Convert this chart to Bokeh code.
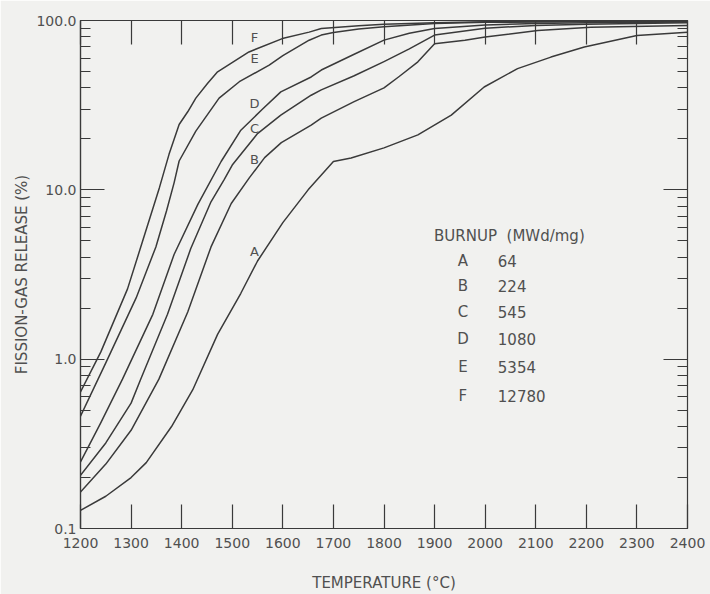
from bokeh.plotting import figure
from bokeh.models import LogAxis, LinearAxis, FixedTicker, NumeralTickFormatter, CustomJSTickFormatter
from bokeh.embed import file_html
from bokeh.resources import INLINE
from bokeh.core.properties import value

# ---------------- data ----------------
temp_A = [1200, 1250, 1300, 1330, 1380, 1422, 1471, 1517, 1550, 1600, 1650, 1700, 1735, 1800, 1867, 1933, 1998, 2064, 2130, 2196, 2300, 2400]
rel_A = [0.128, 0.155, 0.20, 0.245, 0.40, 0.66, 1.40, 2.45, 3.8, 6.4, 10.0, 14.7, 15.4, 17.7, 21.1, 27.6, 40.5, 52, 60.8, 69.7, 81.6, 85.3]

temp_B = [1200, 1250, 1300, 1355, 1412, 1458, 1498, 1534, 1564, 1597, 1656, 1676, 1741, 1800, 1830, 1867, 1900, 1960, 2000, 2104, 2209, 2400]
rel_B = [0.164, 0.24, 0.38, 0.762, 1.9, 4.6, 8.3, 11.8, 15.5, 19.0, 24.1, 26.5, 33.2, 40.0, 46.7, 57, 73, 76.5, 79.8, 87.3, 91.3, 93.5]

temp_C = [1200, 1250, 1300, 1319, 1372, 1418, 1458, 1484, 1500, 1550, 1596, 1656, 1676, 1740, 1800, 1850, 1900, 2000, 2100, 2200, 2400]
rel_C = [0.206, 0.32, 0.55, 0.762, 1.84, 4.5, 8.5, 11.5, 14.0, 21.5, 27.6, 36.2, 38.9, 47, 57.2, 68, 82, 90, 93.5, 95, 97]

temp_D = [1200, 1240, 1283, 1343, 1385, 1432, 1478, 1517, 1560, 1596, 1656, 1676, 1740, 1800, 1850, 1900, 2000, 2100, 2200, 2400]
rel_D = [0.247, 0.42, 0.762, 1.84, 4.15, 8.2, 14.7, 22.5, 30, 37.9, 46.4, 51, 63, 76.6, 84, 89.7, 94, 96, 97, 98]

temp_E = [1200, 1250, 1310, 1349, 1370, 1385, 1395, 1428, 1474, 1514, 1573, 1600, 1652, 1676, 1700, 1750, 1800, 1900, 2000, 2200, 2400]
rel_E = [0.46, 0.95, 2.3, 4.6, 7.5, 11.0, 14.8, 22.2, 34.8, 43.5, 54.5, 62, 76.5, 82, 85, 89, 92, 96, 97.5, 98.5, 99]

temp_F = [1200, 1240, 1293, 1323, 1356, 1375, 1395, 1412, 1428, 1451, 1471, 1533, 1599, 1652, 1676, 1750, 1800, 1900, 2000, 2200, 2400]
rel_F = [0.64, 1.1, 2.6, 5.0, 10.3, 16.2, 24.3, 28.9, 34.8, 42.5, 49.8, 65.2, 78.2, 85.4, 89.7, 93, 95, 97, 98.3, 99, 99.5]

curve_letters = ["A", "B", "C", "D", "E", "F"]
burnup_values = ["64", "224", "545", "1080", "5354", "12780"]
legend_title = "BURNUP\u00a0\u00a0(MWd/mg)"

x_ticks = [1200, 1300, 1400, 1500, 1600, 1700, 1800, 1900, 2000, 2100, 2200, 2300, 2400]
y_ticks = [0.1, 1.0, 10.0, 100.0]

# ---------------- layout constants ----------------
curve_label_x = 1544
curve_label_y = [4.31, 15.2, 23.0, 32.4, 59.5, 79.8]
legend_title_x = 1899
legend_title_y = 5.36
legend_letter_x = 1956
legend_value_x = 2025
legend_row_y = [3.79, 2.72, 1.89, 1.31, 0.90, 0.605]

BG = "#f1f1ef"
INK = "#3a3a3a"
TXT = "#505050"
FONT = "DejaVu Sans"

minor_y = [m * 10.0 ** e for e in (-1, 0, 1) for m in range(2, 10)]

p = figure(width=710, height=594, x_range=(1200, 2400), y_range=(0.1, 100),
           y_axis_type="log", output_backend="svg", toolbar_location=None,
           min_border_left=80, min_border_right=23, min_border_top=20, min_border_bottom=64,
           background_fill_color=BG, border_fill_color=BG)
p.grid.visible = False
p.outline_line_color = INK
p.outline_line_width = 1.2

# x axis (bottom)
xa = p.xaxis[0]
xa.ticker = FixedTicker(ticks=x_ticks, minor_ticks=[])
xa.major_tick_in = 24
xa.major_tick_out = 0
xa.minor_tick_line_color = None
xa.axis_line_color = INK
xa.axis_line_width = 1.2
xa.major_tick_line_color = INK
xa.major_tick_line_width = 1.2
xa.major_label_standoff = 9
xa.major_label_text_font = FONT
xa.major_label_text_font_size = "14px"
xa.major_label_text_color = TXT
xa.axis_label = "TEMPERATURE (°C)"
xa.axis_label_text_font = FONT
xa.axis_label_text_font_style = "normal"
xa.axis_label_text_font_size = "15px"
xa.axis_label_text_color = TXT
xa.axis_label_standoff = 23

# y axis (left)
ya = p.yaxis[0]
ya.ticker = FixedTicker(ticks=y_ticks, minor_ticks=minor_y)
ya.formatter = NumeralTickFormatter(format="0.0")
ya.major_tick_in = 24
ya.major_tick_out = 0
ya.minor_tick_in = 10
ya.minor_tick_out = 0
ya.axis_line_color = INK
ya.axis_line_width = 1.2
ya.major_tick_line_color = INK
ya.minor_tick_line_color = INK
ya.major_tick_line_width = 1.2
ya.minor_tick_line_width = 1.2
ya.major_label_standoff = 4
ya.major_label_text_font = FONT
ya.major_label_text_font_size = "14px"
ya.major_label_text_color = TXT
ya.axis_label = "FISSION-GAS RELEASE (%)"
ya.axis_label_text_font = FONT
ya.axis_label_text_font_style = "normal"
ya.axis_label_text_font_size = "15px"
ya.axis_label_text_color = TXT
ya.axis_label_standoff = 2

blank = CustomJSTickFormatter(code="return ''")

top = LinearAxis(ticker=FixedTicker(ticks=x_ticks, minor_ticks=[]), formatter=blank,
                 major_tick_in=24, major_tick_out=0, major_label_standoff=0,
                 axis_line_color=INK, major_tick_line_color=INK, major_tick_line_width=1.2,
                 minor_tick_line_color=None)
p.add_layout(top, "above")

right = LogAxis(ticker=FixedTicker(ticks=y_ticks, minor_ticks=minor_y), formatter=blank,
                major_tick_in=24, major_tick_out=0, minor_tick_in=10, minor_tick_out=0,
                major_label_standoff=0, axis_line_color=INK, major_tick_line_color=INK,
                minor_tick_line_color=INK, major_tick_line_width=1.2, minor_tick_line_width=1.2)
p.add_layout(right, "right")

# curves
for t, r in [(temp_A, rel_A), (temp_B, rel_B), (temp_C, rel_C),
             (temp_D, rel_D), (temp_E, rel_E), (temp_F, rel_F)]:
    p.line(t, r, line_color=INK, line_width=1.5, line_join="round")

# curve letters
p.text(x=[curve_label_x] * 6, y=curve_label_y, text=curve_letters,
       text_font=value(FONT), text_font_size="13px", text_color=TXT,
       text_align="center", text_baseline="middle")

# burnup table
p.text(x=[legend_title_x], y=[legend_title_y], text=[legend_title],
       text_font=value(FONT), text_font_size="15px", text_color=TXT,
       text_align="left", text_baseline="middle")
p.text(x=[legend_letter_x] * 6, y=legend_row_y, text=curve_letters,
       text_font=value(FONT), text_font_size="15px", text_color=TXT,
       text_align="center", text_baseline="middle")
p.text(x=[legend_value_x] * 6, y=legend_row_y, text=burnup_values,
       text_font=value(FONT), text_font_size="15px", text_color=TXT,
       text_align="left", text_baseline="middle")

open("out.html", "w").write(file_html(p, INLINE))
